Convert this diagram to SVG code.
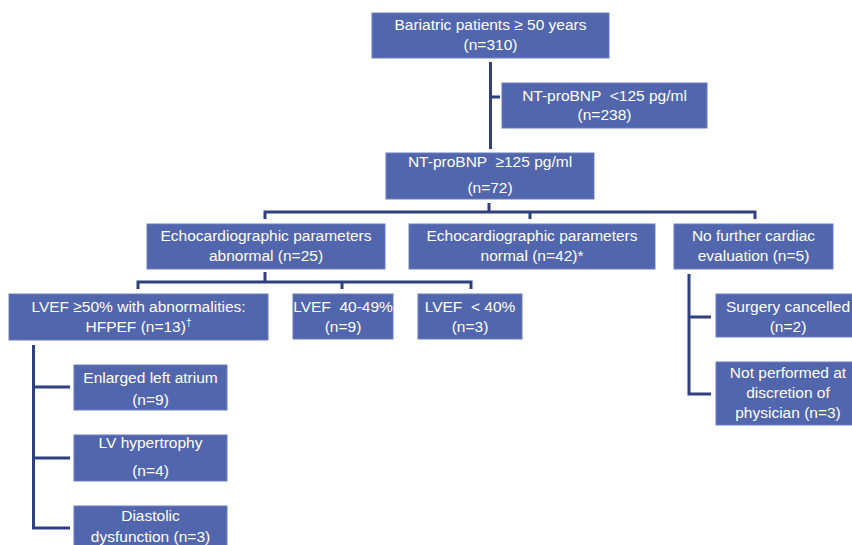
<svg xmlns="http://www.w3.org/2000/svg" width="852" height="545" viewBox="0 0 852 545">
<style>
.box{fill:#5166ac;stroke:#6a7fbf;stroke-width:1}
.t{font-family:"Liberation Sans",Arial,sans-serif;font-size:15.5px;fill:#ffffff;text-anchor:middle;white-space:pre}
.c{fill:none;stroke:#2f3f7f;stroke-width:3;stroke-linejoin:miter}
</style>
<rect width="852" height="545" fill="#ffffff"/>
<g id="connectors">
<path class="c" d="M490.5 62 V149 M490.5 97 H500"/>
<path class="c" d="M489 203 V212 M265 219 V212 H755 V219 M530 212 V219"/>
<path class="c" d="M265 272 V282 M138 289 V282 H471 V289 M342 282 V289"/>
<path class="c" d="M70 387 H33.5 V345 M33.5 387 V528 H70 M33.5 458 H70"/>
<path class="c" d="M689 274 V394 H711 M689 317 H711"/>
</g>
<g id="n1"><rect class="box" x="372" y="13" width="237" height="45"/><text class="t" x="490.5" y="30">Bariatric patients ≥ 50 years</text><text class="t" x="490.5" y="50">(n=310)</text></g>
<g id="n2"><rect class="box" x="502" y="83" width="205" height="45"/><text class="t" x="604.5" y="101">NT-proBNP  &lt;125 pg/ml</text><text class="t" x="604.5" y="120">(n=238)</text></g>
<g id="n3"><rect class="box" x="386" y="153" width="208" height="46"/><text class="t" x="490" y="167">NT-proBNP  ≥125 pg/ml</text><text class="t" x="490" y="193">(n=72)</text></g>
<g id="n4"><rect class="box" x="147" y="224" width="238" height="45"/><text class="t" x="266" y="241">Echocardiographic parameters</text><text class="t" x="266" y="261">abnormal (n=25)</text></g>
<g id="n5"><rect class="box" x="409" y="224" width="246" height="45"/><text class="t" x="532" y="241">Echocardiographic parameters</text><text class="t" x="532" y="261">normal (n=42)*</text></g>
<g id="n6"><rect class="box" x="674" y="224" width="159" height="45"/><text class="t" x="753.5" y="241">No further cardiac</text><text class="t" x="753.5" y="261">evaluation (n=5)</text></g>
<g id="n7"><rect class="box" x="9" y="294" width="259" height="46"/><text class="t" x="138.5" y="312">LVEF ≥50% with abnormalities:</text><text class="t" x="138.5" y="332">HFPEF (n=13)<tspan font-size="10" dy="-6">†</tspan></text></g>
<g id="n8"><rect class="box" x="293" y="294" width="100" height="45"/><text class="t" x="343" y="312">LVEF  40-49%</text><text class="t" x="343" y="332">(n=9)</text></g>
<g id="n9"><rect class="box" x="418" y="294" width="104" height="45"/><text class="t" x="470" y="312">LVEF  &lt; 40%</text><text class="t" x="470" y="332">(n=3)</text></g>
<g id="n10"><rect class="box" x="74" y="365" width="153" height="45"/><text class="t" x="150.5" y="383">Enlarged left atrium</text><text class="t" x="150.5" y="405">(n=9)</text></g>
<g id="n11"><rect class="box" x="74" y="435" width="153" height="46"/><text class="t" x="150.5" y="448">LV hypertrophy</text><text class="t" x="150.5" y="476">(n=4)</text></g>
<g id="n12"><rect class="box" x="74" y="506" width="153" height="45"/><text class="t" x="150.5" y="521">Diastolic</text><text class="t" x="150.5" y="542">dysfunction (n=3)</text></g>
<g id="n13"><rect class="box" x="716" y="294" width="145" height="43"/><text class="t" x="788" y="312">Surgery cancelled</text><text class="t" x="788" y="332">(n=2)</text></g>
<g id="n14"><rect class="box" x="716" y="362" width="145" height="63"/><text class="t" x="788" y="378">Not performed at</text><text class="t" x="788" y="398">discretion of</text><text class="t" x="788" y="418">physician (n=3)</text></g>
</svg>
